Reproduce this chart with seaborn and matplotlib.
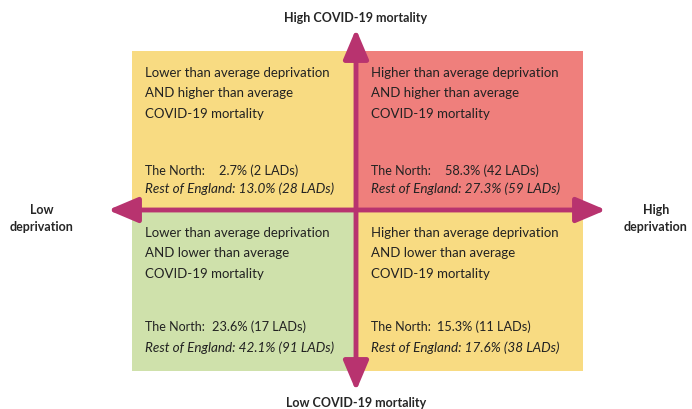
import numpy as np
import seaborn as sns
import matplotlib.pyplot as plt
from matplotlib.colors import ListedColormap

# quadrant grid: row 0 = high mortality, col 0 = low deprivation
# 0 = green, 1 = yellow, 2 = red
quad_levels = [[1, 2],
               [0, 1]]
quad_text = [
    [["Lower than average deprivation", "AND higher than average", "COVID-19 mortality"],
     ["Higher than average deprivation", "AND higher than average", "COVID-19 mortality"]],
    [["Lower than average deprivation", "AND lower than average", "COVID-19 mortality"],
     ["Higher than average deprivation", "AND lower than average", "COVID-19 mortality"]],
]
north_pct = [[2.7, 58.3], [23.6, 15.3]]
north_lads = [[2, 42], [17, 11]]
rest_pct = [[13.0, 27.3], [42.1, 17.6]]
rest_lads = [[28, 59], [91, 38]]

axis_labels = {"top": "High COVID-19 mortality", "bottom": "Low COVID-19 mortality",
               "left": "Low\ndeprivation", "right": "High\ndeprivation"}

colors = ["#cfe1ab", "#f8db82", "#ef7f7c"]
arrow_col = "#b8336f"

sns.set_style("white")
plt.rcParams['font.family'] = ['Lato', 'DejaVu Sans']

W, H = 692, 410
fig = plt.figure(figsize=(W / 100, H / 100), dpi=100)

# box of the quadrants in pixels
x0, x1, y0, y1 = 132, 583, 52, 372
ax = fig.add_axes([x0 / W, 1 - y1 / H, (x1 - x0) / W, (y1 - y0) / H])
sns.heatmap(np.array(quad_levels), cmap=ListedColormap(colors), vmin=-0.5, vmax=2.5,
            cbar=False, xticklabels=False, yticklabels=False, ax=ax)

for i in range(2):
    for j in range(2):
        tx = j + 0.058
        for k, line in enumerate(quad_text[i][j]):
            ax.text(tx, i + 0.13 + k * 0.128, line, fontsize=9.5, va='center', ha='left', color='#222222')
        ny = i + (0.745 if i == 0 else 0.72)
        ry = i + (0.855 if i == 0 else 0.85)
        ax.text(tx, ny, "The North:", fontsize=9, va='center', ha='left', color='#222222')
        off = 0.33 if i == 0 else 0.295
        ax.text(tx + off, ny, f"{north_pct[i][j]:.1f}% ({north_lads[i][j]} LADs)",
                fontsize=9.2, va='center', ha='left', color='#222222')
        ax.text(tx, ry, f"Rest of England: {rest_pct[i][j]:.1f}% ({rest_lads[i][j]} LADs)",
                fontsize=9.7, va='center', ha='left', style='italic', color='#222222')

# overlay in pixel coordinates for the axes arrows and labels
ov = fig.add_axes([0, 0, 1, 1])
ov.set_xlim(0, W)
ov.set_ylim(H, 0)
ov.axis('off')
ov.patch.set_alpha(0)

cx, cy = 356, 211
akw = dict(arrowstyle='-|>,head_length=1.3,head_width=0.55', color=arrow_col, lw=3.5, mutation_scale=14,
           shrinkA=0, shrinkB=0)
for tip in [(cx, 30), (cx, 392)]:
    ov.annotate('', xy=tip, xytext=(cx, cy), arrowprops=akw)
for tip in [(108, cy), (606, cy)]:
    ov.annotate('', xy=tip, xytext=(cx, cy), arrowprops=akw)

ov.text(cx, 18, axis_labels["top"], ha='center', va='center', fontsize=9, fontweight='bold')
ov.text(cx, 403, axis_labels["bottom"], ha='center', va='center', fontsize=9, fontweight='bold')
ov.text(42, 219, axis_labels["left"], ha='center', va='center', fontsize=9, fontweight='bold', linespacing=1.5)
ov.text(656, 219, axis_labels["right"], ha='center', va='center', fontsize=9, fontweight='bold', linespacing=1.5)

fig.savefig("out.png", dpi=100)
